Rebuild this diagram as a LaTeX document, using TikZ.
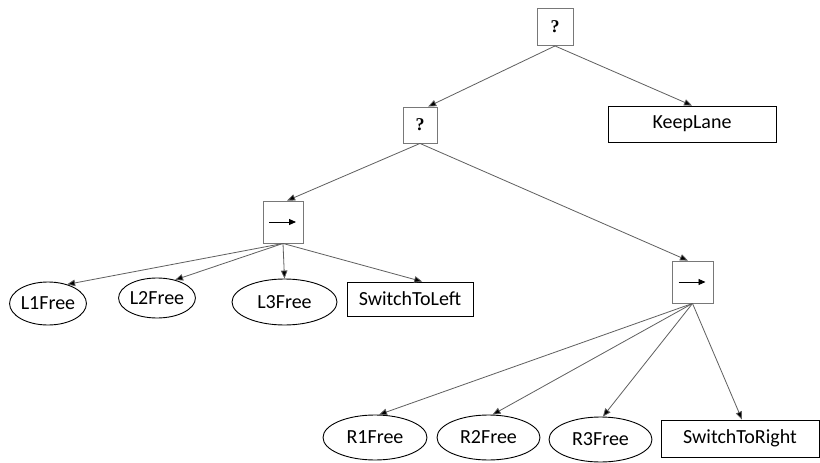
\documentclass[tikz,border=0pt]{standalone}
\usepackage{fontspec}
\setmainfont{Carlito}
\newfontfamily\qfont{Liberation Serif}
\usetikzlibrary{shapes.geometric,arrows.meta}
\definecolor{edgegray}{RGB}{95,95,95}
\definecolor{boxgray}{RGB}{120,120,120}
\tikzset{
  leaf/.style={draw=black,line width=0.9pt,inner sep=0pt,font=\fontsize{20}{24}\selectfont},
  action/.style={leaf,rectangle},
  cond/.style={leaf,ellipse},
  ctrl/.style={draw=boxgray,line width=0.9pt,rectangle,inner sep=0pt},
  qmark/.style={font=\qfont\bfseries\fontsize{18}{21}\selectfont},
  edge/.style={draw=edgegray,line width=0.8pt,-{Triangle[length=8pt,width=6.5pt,fill=black]}},
  seqmark/.style={draw=black,line width=0.9pt,-{Triangle[length=7pt,width=6pt]}}
}
\begin{document}
\begin{tikzpicture}[x=1pt,y=-1pt]
\useasboundingbox[fill=white] (0,0) rectangle (820,463);

% control nodes
\node[ctrl,qmark,minimum width=36pt,minimum height=37pt] (root) at (555,27) {?};
\node[ctrl,qmark,minimum width=34pt,minimum height=36pt] (fb) at (420,125) {?};
\node[ctrl,minimum width=40pt,minimum height=42pt] (seqL) at (283,222) {};
\node[ctrl,minimum width=41pt,minimum height=42pt] (seqR) at (692.5,282) {};
\draw[seqmark] ([xshift=-14pt]seqL.center) -- ([xshift=13pt]seqL.center);
\draw[seqmark] ([xshift=-14pt]seqR.center) -- ([xshift=13pt]seqR.center);

% actions
\node[action,minimum width=168pt,minimum height=36pt] (keep) at (692,124) {KeepLane};
\node[action,minimum width=126pt,minimum height=34pt] (swL) at (410,299) {SwitchToLeft};
\node[action,minimum width=158pt,minimum height=37pt] (swR) at (740,438.5) {SwitchToRight};

% conditions
\node[cond,minimum width=70pt,minimum height=43pt] (l1) at (48,303.5) {L1Free};
\node[cond,minimum width=73pt,minimum height=40pt] (l2) at (157,298) {L2Free};
\node[cond,minimum width=105pt,minimum height=46pt] (l3) at (284.5,302) {L3Free};
\node[cond,minimum width=104pt,minimum height=45pt] (r1) at (375,437.5) {R1Free};
\node[cond,minimum width=103pt,minimum height=45pt] (r2) at (488.5,437.5) {R2Free};
\node[cond,minimum width=103pt,minimum height=45pt] (r3) at (600.5,439.5) {R3Free};

% connectors
\draw[edge] (root.south) -- (fb.66);
\draw[edge] (root.south) -- (keep.north);
\draw[edge] (fb.south) -- (seqL.79);
\draw[edge] (fb.south) -- (seqR.102);
\draw[edge] (seqL.south) -- (l1.45);
\draw[edge] (seqL.south) -- (l2.45);
\draw[edge] (seqL.south) -- (l3.north);
\draw[edge] (seqL.south) -- (swL.55);
\draw[edge] (seqR.south) -- (r1.80);
\draw[edge] (seqR.south) -- (r2.80);
\draw[edge] (seqR.south) -- (r3.84);
\draw[edge] (seqR.south) -- (swR.84);
\end{tikzpicture}
\end{document}
